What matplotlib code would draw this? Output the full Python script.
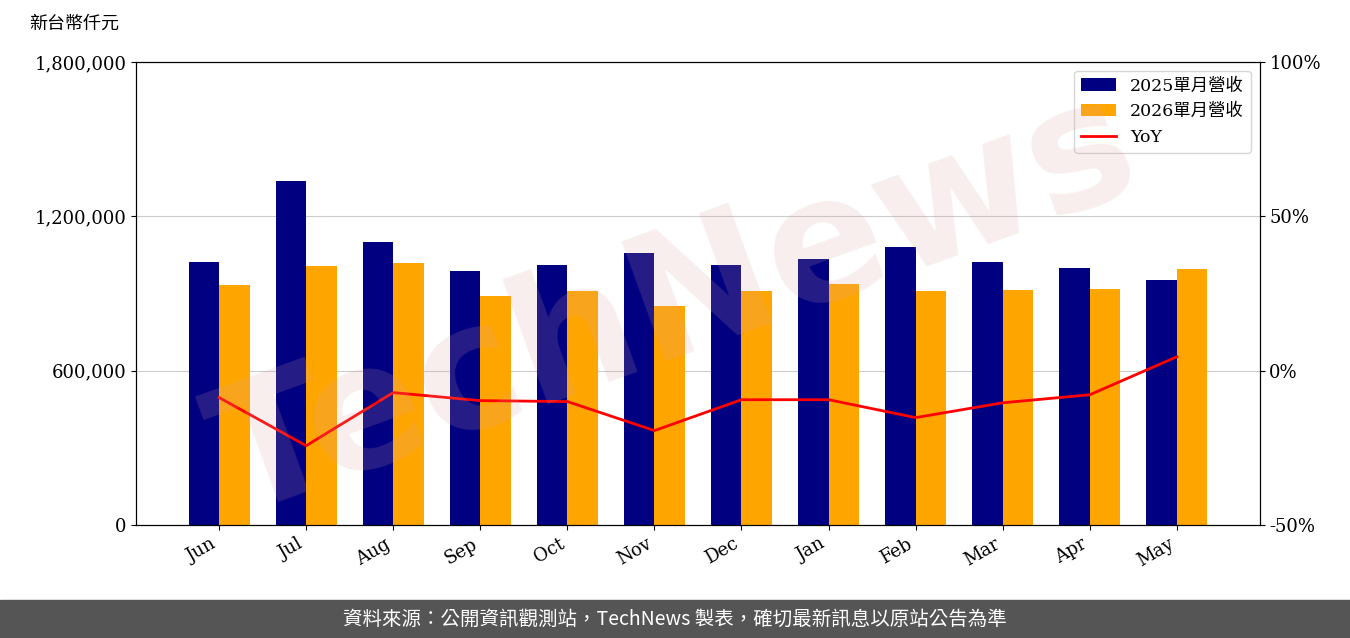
import matplotlib
matplotlib.use("Agg")
import matplotlib.pyplot as plt
import numpy as np

months = ["Jun","Jul","Aug","Sep","Oct","Nov","Dec","Jan","Feb","Mar","Apr","May"]
rev2025 = [1022000,1337000,1100000,987000,1011000,1057000,1011000,1034000,1081000,1022000,999000,952000]
rev2026 = [933000,1007000,1019000,890000,910000,851000,910000,937000,910000,914000,917000,995000]
yoy = [-8.7,-24.3,-7.1,-9.7,-10.0,-19.4,-9.4,-9.4,-15.2,-10.4,-7.8,4.5]

fam = ['DejaVu Serif','Noto Sans CJK TC']
plt.rcParams['font.family'] = fam
fig = plt.figure(figsize=(13.5,6.38), dpi=100)
ax = fig.add_axes([0.101,0.177,0.832,0.726])
x = np.arange(len(months))
w = 0.35
b1 = ax.bar(x-w/2, rev2025, w, color='#000080', label='2025單月營收')
b2 = ax.bar(x+w/2, rev2026, w, color='#FFA500', label='2026單月營收')
ax.set_ylim(0,1800000)
ax.set_yticks([0,600000,1200000,1800000])
ax.set_yticklabels(['0','600,000','1,200,000','1,800,000'], fontsize=13)
ax.yaxis.grid(True, color='#cccccc')
ax.set_axisbelow(True)
ax.set_xticks(x)
ax.set_xticklabels(months, rotation=30, ha='right', fontsize=13)
ax.set_xlim(-0.95, 11.95)
ax2 = ax.twinx()
l, = ax2.plot(x, yoy, color='red', lw=2, label='YoY')
ax2.set_ylim(-50,100)
ax2.set_yticks([-50,0,50,100])
ax2.set_yticklabels(['-50%','0%','50%','100%'], fontsize=13)
ax2.legend([b1,b2,l],['2025單月營收','2026單月營收','YoY'], loc='upper right', prop={'family':fam,'size':12.5})
fig.text(0.022,0.955,'新台幣仟元', fontsize=13, family=['Noto Sans CJK TC'])
fig.text(0.5,0.52,'TechNews', fontsize=125, rotation=20, color='#d9a0a0', alpha=0.18,
         ha='center', va='center', family='DejaVu Sans', weight='bold')
fig.patches.append(plt.Rectangle((0,0),1,0.06,transform=fig.transFigure,color='#555555',zorder=0))
fig.text(0.5,0.03,'資料來源：公開資訊觀測站，TechNews 製表，確切最新訊息以原站公告為準', color='white',
         fontsize=14, ha='center', va='center', family=['Noto Sans CJK TC'])
fig.savefig('out.png')
